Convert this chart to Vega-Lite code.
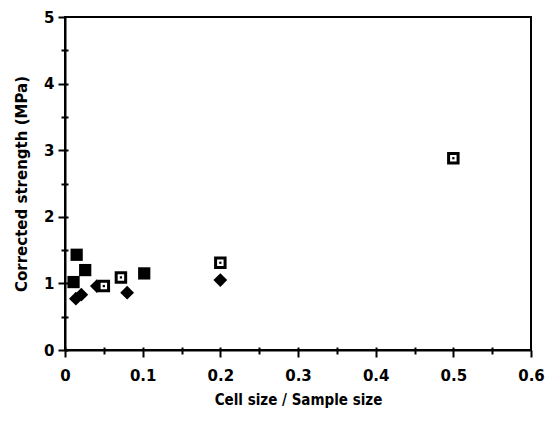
{
  "$schema": "https://vega.github.io/schema/vega-lite/v6.json",
  "width": 466,
  "height": 333,
  "autosize": {"type": "none"},
  "padding": {"left": 65, "top": 17, "right": 16, "bottom": 73},
  "background": "white",
  "config": {
    "view": {"stroke": "black", "strokeWidth": 2},
    "font": "DejaVu Sans",
    "axis": {"grid": false, "domainColor": "black", "tickColor": "black", "labelColor": "black", "titleColor": "black"}
  },
  "data": {"values": [
    {"ratio": 0.015, "strength": 1.43, "series": "filled"},
    {"ratio": 0.026, "strength": 1.20, "series": "filled"},
    {"ratio": 0.011, "strength": 1.02, "series": "filled"},
    {"ratio": 0.102, "strength": 1.15, "series": "filled"},
    {"ratio": 0.014, "strength": 0.77, "series": "diamond"},
    {"ratio": 0.021, "strength": 0.83, "series": "diamond"},
    {"ratio": 0.041, "strength": 0.96, "series": "diamond"},
    {"ratio": 0.080, "strength": 0.86, "series": "diamond"},
    {"ratio": 0.200, "strength": 1.05, "series": "diamond"},
    {"ratio": 0.050, "strength": 0.96, "series": "open"},
    {"ratio": 0.072, "strength": 1.09, "series": "open"},
    {"ratio": 0.200, "strength": 1.31, "series": "open"},
    {"ratio": 0.500, "strength": 2.88, "series": "open"}
  ]},
  "resolve": {"axis": {"x": "independent", "y": "independent"}},
  "layer": [
    {
      "transform": [{"filter": "datum.series == 'filled'"}],
      "mark": {"type": "point", "shape": "square", "filled": true, "color": "black", "size": 150, "opacity": 1},
      "encoding": {
        "x": {"field": "ratio", "type": "quantitative", "scale": {"domain": [0, 0.6], "nice": false},
          "axis": {"orient": "bottom", "values": [0, 0.1, 0.2, 0.3, 0.4, 0.5, 0.6], "format": ".1~f", "tickSize": 7, "tickWidth": 2, "domainWidth": 2, "labelFontSize": 15, "labelFontWeight": "bold", "labelPadding": 11, "title": "Cell size / Sample size", "titleFont": "DejaVu Sans Condensed", "titleFontSize": 15, "titleFontWeight": "bold", "titlePadding": 9, "labelFlush": false}},
        "y": {"field": "strength", "type": "quantitative", "scale": {"domain": [0, 5], "nice": false},
          "axis": {"orient": "left", "values": [0, 1, 2, 3, 4, 5], "tickSize": 7, "tickWidth": 2, "domainWidth": 2, "labelFontSize": 15, "labelFontWeight": "bold", "labelPadding": 4, "title": "Corrected strength (MPa)", "titleFontSize": 15, "titleFontWeight": "bold", "titlePadding": 14}}
      }
    },
    {
      "transform": [{"filter": "datum.series == 'diamond'"}],
      "mark": {"type": "point", "shape": "diamond", "filled": true, "color": "black", "size": 190, "opacity": 1},
      "encoding": {
        "x": {"field": "ratio", "type": "quantitative",
          "axis": {"orient": "bottom", "values": [0.05, 0.15, 0.25, 0.35, 0.45, 0.55], "tickSize": 4, "tickWidth": 2, "labels": false, "domain": false, "title": null}},
        "y": {"field": "strength", "type": "quantitative",
          "axis": {"orient": "left", "values": [0.5, 1.5, 2.5, 3.5, 4.5], "tickSize": 4, "tickWidth": 2, "labels": false, "domain": false, "title": null}}
      }
    },
    {
      "transform": [{"filter": "datum.series == 'open'"}],
      "mark": {"type": "point", "shape": "square", "filled": true, "fill": "white", "stroke": "black", "strokeWidth": 3, "size": 90, "opacity": 1},
      "encoding": {
        "x": {"field": "ratio", "type": "quantitative",
          "axis": {"orient": "bottom", "values": [0, 0.05, 0.1, 0.15, 0.2, 0.25, 0.3, 0.35, 0.4, 0.45, 0.5, 0.55], "tickSize": -3, "tickWidth": 2, "labels": false, "domain": false, "title": null}},
        "y": {"field": "strength", "type": "quantitative",
          "axis": {"orient": "left", "values": [0, 0.5, 1, 1.5, 2, 2.5, 3, 3.5, 4, 4.5], "tickSize": -3, "tickWidth": 2, "labels": false, "domain": false, "title": null}}
      }
    },
    {
      "transform": [{"filter": "datum.series == 'open'"}],
      "mark": {"type": "point", "shape": "square", "filled": true, "color": "black", "size": 5, "opacity": 1},
      "encoding": {
        "x": {"field": "ratio", "type": "quantitative", "axis": null},
        "y": {"field": "strength", "type": "quantitative", "axis": null}
      }
    }
  ]
}
